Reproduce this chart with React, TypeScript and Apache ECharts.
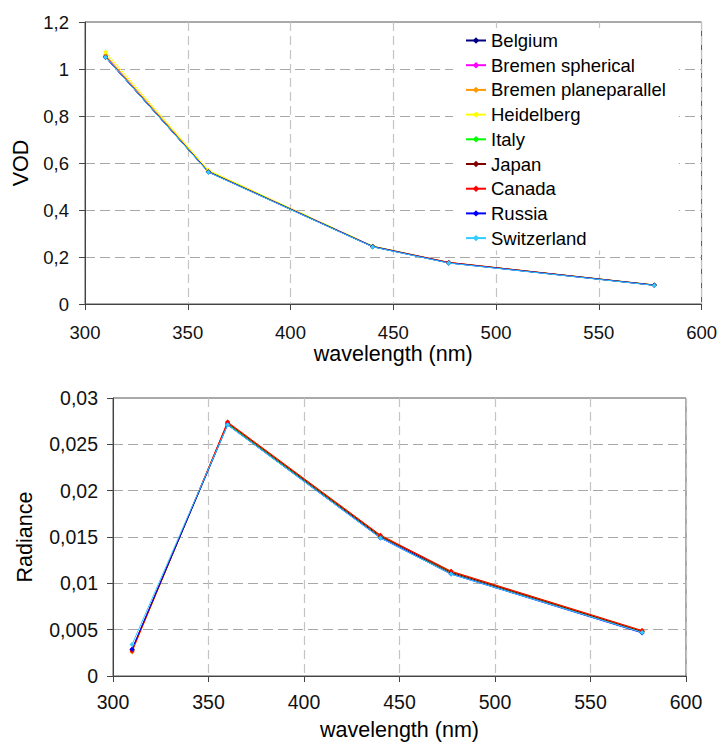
import React, { useEffect, useRef } from "react";
import * as echarts from "echarts";

const wavelengths = [310, 360, 440, 477, 577];

const seriesNames = [
  "Belgium",
  "Bremen spherical",
  "Bremen planeparallel",
  "Heidelberg",
  "Italy",
  "Japan",
  "Canada",
  "Russia",
  "Switzerland",
];

const seriesColors = [
  "#000080",
  "#FF00FF",
  "#FF9900",
  "#FFFF00",
  "#00FF00",
  "#800000",
  "#FF0000",
  "#0000FF",
  "#33CCFF",
];

const vodBelgium = [1.05, 0.563, 0.244, 0.175, 0.08];
const vodBremenSpherical = [1.055, 0.565, 0.245, 0.176, 0.081];
const vodBremenPlane = [1.06, 0.567, 0.246, 0.177, 0.081];
const vodHeidelberg = [1.072, 0.569, 0.245, 0.176, 0.08];
const vodItaly = [1.052, 0.564, 0.246, 0.176, 0.081];
const vodJapan = [1.05, 0.562, 0.244, 0.176, 0.08];
const vodCanada = [1.051, 0.563, 0.245, 0.177, 0.08];
const vodRussia = [1.05, 0.562, 0.244, 0.175, 0.08];
const vodSwitzerland = [1.05, 0.561, 0.243, 0.174, 0.079];

const radBelgium = [0.00285, 0.0272, 0.015, 0.0111, 0.00475];
const radBremenSpherical = [0.0029, 0.0273, 0.0151, 0.0112, 0.0048];
const radBremenPlane = [0.0026, 0.0274, 0.0152, 0.0113, 0.0049];
const radHeidelberg = [0.0028, 0.0273, 0.0151, 0.0112, 0.0048];
const radItaly = [0.0028, 0.0272, 0.0151, 0.0112, 0.0048];
const radJapan = [0.0028, 0.0273, 0.0151, 0.0112, 0.0048];
const radCanada = [0.0027, 0.0274, 0.0152, 0.0113, 0.0049];
const radRussia = [0.0029, 0.0271, 0.0149, 0.011, 0.00465];
const radSwitzerland = [0.0034, 0.0271, 0.0149, 0.011, 0.0047];

const vodData = [
  vodBelgium,
  vodBremenSpherical,
  vodBremenPlane,
  vodHeidelberg,
  vodItaly,
  vodJapan,
  vodCanada,
  vodRussia,
  vodSwitzerland,
];
const radData = [
  radBelgium,
  radBremenSpherical,
  radBremenPlane,
  radHeidelberg,
  radItaly,
  radJapan,
  radCanada,
  radRussia,
  radSwitzerland,
];

const FONT = "Liberation Sans, Arial, sans-serif";

const comma = (v: number) => String(Number(v.toFixed(4))).replace(".", ",");

export default function App() {
  const ref = useRef<HTMLDivElement>(null);
  useEffect(() => {
    if (!ref.current) return;
    const chart = echarts.init(ref.current, null, { renderer: "svg" });

    const pair = (ys: number[]) => wavelengths.map((x, i) => [x, ys[i]]);

    const mkSeries = (data: number[][], gi: number) =>
      data.map((ys, i) => ({
        name: seriesNames[i],
        type: "line",
        xAxisIndex: gi,
        yAxisIndex: gi,
        data: pair(ys),
        symbol: "diamond",
        symbolSize: 5,
        showSymbol: true,
        lineStyle: { width: 1, color: seriesColors[i] },
        itemStyle: { color: seriesColors[i] },
        emphasis: { disabled: true },
      }));

    const xAxisBase = (gi: number, fs: number, labelMargin: number, nameGap: number) => ({
      type: "value",
      gridIndex: gi,
      min: 300,
      max: 600,
      interval: 50,
      name: "wavelength (nm)",
      nameLocation: "middle",
      nameGap,
      nameTextStyle: { fontFamily: FONT, fontSize: 21.5, color: "#000" },
      axisLine: { show: true, onZero: false, lineStyle: { color: "#444", width: 1 } },
      axisTick: { show: true, length: 6, lineStyle: { color: "#444" } },
      axisLabel: { fontFamily: FONT, fontSize: fs, color: "#111", margin: labelMargin },
      splitLine: { show: true, lineStyle: { color: "#c4c4c4", type: [9, 5], width: 1.2 } },
    });

    const yAxisBase = (
      gi: number,
      max: number,
      interval: number,
      name: string,
      fs: number,
      labelMargin: number,
      nameGap: number
    ) => ({
      type: "value",
      gridIndex: gi,
      min: 0,
      max,
      interval,
      name,
      nameLocation: "middle",
      nameGap,
      nameTextStyle: { fontFamily: FONT, fontSize: 21.5, color: "#000" },
      axisLine: { show: true, lineStyle: { color: "#444", width: 1 } },
      axisTick: { show: true, length: 6, lineStyle: { color: "#444" } },
      axisLabel: { fontFamily: FONT, fontSize: fs, color: "#111", margin: labelMargin, formatter: comma },
      splitLine: { show: true, lineStyle: { color: "#a8a8a8", type: [10, 5], width: 1.2 } },
    });

    const option = {
      animation: false,
      backgroundColor: "#fff",
      grid: [
        {
          left: 85,
          top: 22,
          width: 619,
          height: 282,
          show: true,
          borderColor: "#555",
          borderWidth: 1,
          backgroundColor: "transparent",
        },
        {
          left: 113,
          top: 398,
          width: 573,
          height: 282,
          show: true,
          borderColor: "#555",
          borderWidth: 1,
          backgroundColor: "transparent",
        },
      ],
      legend: {
        data: seriesNames,
        orient: "vertical",
        left: 453,
        top: 28,
        itemWidth: 20,
        itemHeight: 8,
        itemGap: 5.7,
        padding: [3, 13, 3, 12],
        backgroundColor: "#fff",
        textStyle: { fontFamily: FONT, fontSize: 18.5, color: "#000", lineHeight: 19 },
        selectedMode: false,
      },
      xAxis: [xAxisBase(0, 18.5, 19, 39), xAxisBase(1, 19.5, 16, 43)],
      yAxis: [
        yAxisBase(0, 1.2, 0.2, "VOD", 18.5, 16, 45),
        yAxisBase(1, 0.03, 0.005, "Radiance", 19.5, 15, 77),
      ],
      series: [...mkSeries(vodData, 0), ...mkSeries(radData, 1)],
    };

    chart.setOption(option as any);
    return () => chart.dispose();
  }, []);

  return (
    <div
      ref={ref}
      style={{ position: "absolute", left: 0, top: 0, width: 720, height: 742, background: "#fff" }}
    />
  );
}
